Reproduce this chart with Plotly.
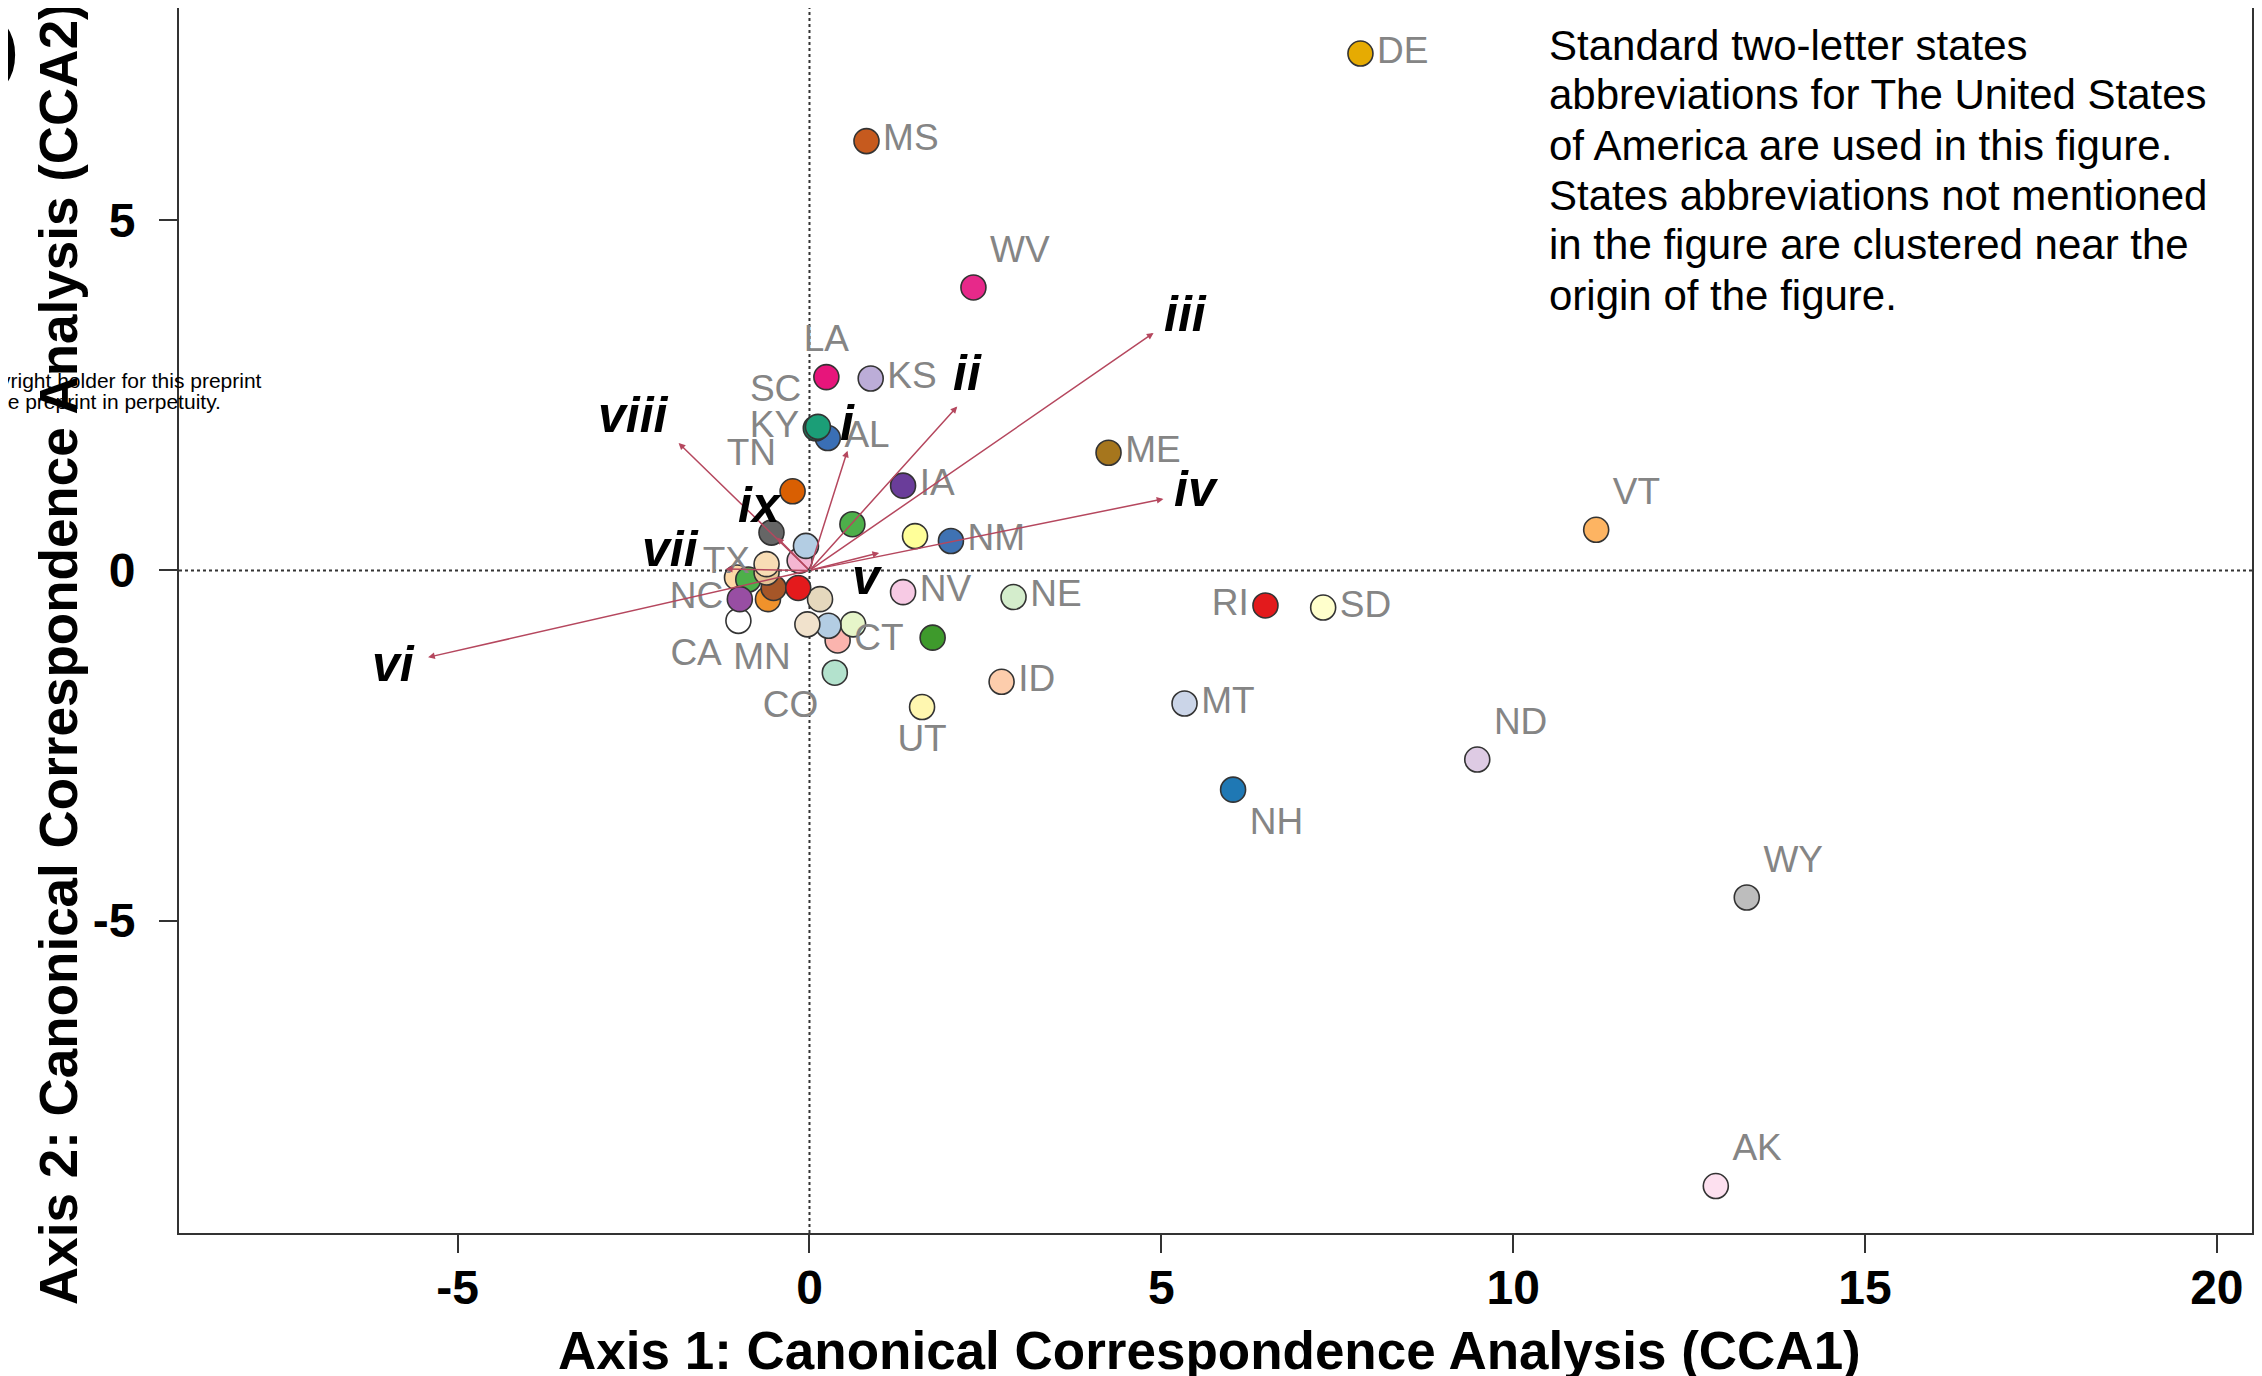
import plotly.graph_objects as go

# --- dane ---
states = [
    "DE", "MS", "WV", "LA", "KS", "AL", "KY", "SC", "ME", "IA", "TN",
    "", "", "NM", "VT", "RI", "SD", "NV", "NE", "", "ID", "UT", "MT",
    "NH", "ND", "WY", "AK", "CO", "CT", "", "", "MN", "", "CA", "",
    "", "", "", "NC", "", "TX", "", "", "", "",
]
cca1 = [
    7.83, 0.81, 2.33, 0.24, 0.87, 0.26, 0.09, 0.12, 4.25, 1.33, -0.24,
    0.61, 1.50, 2.01, 11.18, 6.48, 7.30, 1.33, 2.90, 1.75, 2.73, 1.60, 5.33,
    6.02, 9.49, 13.32, 12.88, 0.36, 0.40, 0.62, 0.27, -0.03, 0.15, -1.01, -1.03,
    -0.87, -0.59, -0.51, -0.99, -0.61, -0.61, -0.16, -0.14, -0.05, -0.54,
]
cca2 = [
    7.38, 6.13, 4.04, 2.76, 2.74, 1.89, 2.03, 2.05, 1.68, 1.21, 1.13,
    0.66, 0.49, 0.42, 0.58, -0.50, -0.53, -0.31, -0.38, -0.96, -1.59, -1.95, -1.90,
    -3.13, -2.70, -4.67, -8.79, -1.46, -1.00, -0.77, -0.79, -0.77, -0.41, -0.72, -0.10,
    -0.13, -0.41, -0.25, -0.41, -0.03, 0.09, -0.25, 0.14, 0.35, 0.54,
]
colors = [
    "#E6AB02", "#C65A1E", "#E7298A", "#E7157B", "#BCADD8", "#3A6FB5", "#1B7A5A",
    "#1B9E77", "#A6761D", "#6A3D9A", "#D95F02", "#4DAF4A", "#FFFF99", "#3F72B3",
    "#FDB462", "#E31A1C", "#FFFFCC", "#F7CAE4", "#D4EDCC", "#3E9A2C", "#FDCDAC",
    "#FFF7B0", "#CBD5E8", "#1F78B4", "#DECBE4", "#BDBDBD", "#FDE0EF", "#B3E2CD",
    "#FBB4AE", "#E6F5C9", "#B3CDE3", "#F1E2CC", "#E5D8BD", "#FFFFFF", "#FED9A6",
    "#4DAF4A", "#F0922B", "#A65628", "#984EA3", "#E5C494", "#F8DDB5", "#E41A1C",
    "#F4B6D2", "#B3CDE3", "#666666",
]

# zmienne objaśniające (strzałki biplotu)
vec_names = ["i", "ii", "iii", "iv", "v", "vi", "vii", "viii", "ix"]
vec_x = [0.54, 2.10, 4.89, 5.03, 0.99, -5.42, -1.19, -1.86, -0.46]
vec_y = [1.71, 2.34, 3.39, 1.02, 0.25, -1.24, 0.02, 1.82, 0.47]

x_ticks = [-5, 0, 5, 10, 15, 20]
y_ticks = [-5, 0, 5]

note_lines = [
    "Standard two-letter states",
    "abbreviations for The United States",
    "of America are used in this figure.",
    "States abbreviations not mentioned",
    "in the figure are clustered near the",
    "origin of the figure.",
]

# --- styl ---
label_pos = {
    "DE": "middle right", "MS": "middle right", "WV": "top right", "LA": "top center",
    "KS": "middle right", "AL": "middle right", "KY": "middle left", "SC": "top left",
    "ME": "middle right", "IA": "middle right", "TN": "top left", "NM": "middle right",
    "VT": "top right", "RI": "middle left", "SD": "middle right", "NV": "middle right",
    "NE": "middle right", "ID": "middle right", "UT": "bottom center", "MT": "middle right",
    "NH": "bottom right", "ND": "top right", "WY": "top right", "AK": "top right",
    "CO": "bottom left", "CT": "middle right", "MN": "bottom left", "CA": "bottom left",
    "NC": "middle left", "TX": "middle left",
}
# przesunięcia etykiet strzałek w px (dx, dy)
vec_shift = {
    "i": (0, 28), "ii": (10, 34), "iii": (32, 19), "iv": (33, 10), "v": (-12, -24),
    "vi": (-35, -7), "vii": (-55, 20), "viii": (-45, 28), "ix": (-17, 33),
}
ARROW = "#B5475E"
FONT = "Liberation Sans, Arial, sans-serif"

# geometria (px); strona HTML ma 8 px marginesu body
OFF = 8
W, H = 2262 - OFF, 1376 - OFF
L, R, T, B = 171, 10, 0, 143
PW, PH = W - L - R, H - T - B


def px_x(p):
    # p: położenie na zrzucie ekranu
    return (p - OFF - L) / PW


def px_y(p):
    return 1 - (p - OFF - T) / PH


fig = go.Figure()

fig.add_trace(go.Scatter(
    x=cca1, y=cca2,
    mode="markers+text",
    text=states,
    textposition=[label_pos.get(s, "middle right") for s in states],
    textfont=dict(family=FONT, size=37, color="#858585"),
    marker=dict(size=25, color=colors, line=dict(color="#333333", width=1.6)),
    hovertext=states,
    showlegend=False,
    cliponaxis=False,
))

annotations = []
for name, vx, vy in zip(vec_names, vec_x, vec_y):
    annotations.append(dict(
        x=vx, y=vy, ax=0, ay=0, xref="x", yref="y", axref="x", ayref="y",
        text="", showarrow=True, arrowhead=2, arrowsize=0.9, arrowwidth=1.5,
        arrowcolor=ARROW,
    ))
    dx, dy = vec_shift[name]
    annotations.append(dict(
        x=vx, y=vy, xref="x", yref="y", text=f"<b><i>{name}</i></b>",
        showarrow=False, xshift=dx, yshift=dy,
        font=dict(family=FONT, size=50, color="black"),
    ))

for i, line in enumerate(note_lines):
    annotations.append(dict(
        x=px_x(1547), y=px_y(45 + i * 50), xref="paper", yref="paper",
        xanchor="left", yanchor="middle", text=line, showarrow=False,
        font=dict(family=FONT, size=42, color="black"),
    ))

annotations += [
    dict(x=px_x(1209), y=px_y(1350), xref="paper", yref="paper",
         xanchor="center", yanchor="middle",
         text="<b>Axis 1: Canonical Correspondence Analysis (CCA1)</b>", showarrow=False,
         font=dict(family=FONT, size=53, color="black")),
    dict(x=px_x(58), y=px_y(654), xref="paper", yref="paper", textangle=-90,
         xanchor="center", yanchor="middle",
         text="<b>Axis 2: Canonical Correspondence Analysis (CCA2)</b>", showarrow=False,
         font=dict(family=FONT, size=53, color="black")),
    dict(x=px_x(20), y=px_y(50), xref="paper", yref="paper", xanchor="right",
         yanchor="middle", text="<b>)</b>", showarrow=False,
         font=dict(family=FONT, size=64, color="black")),
    dict(x=px_x(264), y=px_y(380), xref="paper", yref="paper", xanchor="right",
         yanchor="middle", text="yright holder for this preprint", showarrow=False,
         font=dict(family=FONT, size=21, color="black")),
    dict(x=px_x(223), y=px_y(401), xref="paper", yref="paper", xanchor="right",
         yanchor="middle", text="he preprint in perpetuity.", showarrow=False,
         font=dict(family=FONT, size=21, color="black")),
]

fig.update_layout(
    width=W, height=H,
    margin=dict(l=L, r=R, t=T, b=B),
    plot_bgcolor="white", paper_bgcolor="white",
    annotations=annotations,
    shapes=[
        dict(type="line", x0=0, x1=0, y0=0, y1=1, xref="x", yref="paper",
             line=dict(color="#333333", width=2, dash="dot"), layer="below"),
        dict(type="line", x0=0, x1=1, y0=0, y1=0, xref="paper", yref="y",
             line=dict(color="#333333", width=2, dash="dot"), layer="below"),
    ],
)
fig.update_xaxes(
    range=[-8.96, 20.50], tickvals=x_ticks, ticktext=[str(v) for v in x_ticks],
    showgrid=False, zeroline=False, showline=True, mirror=True, automargin=False,
    linecolor="#333333", linewidth=2, ticks="outside", ticklen=18, tickwidth=1.5,
    tickcolor="#333333", ticklabelstandoff=-7,
    tickfont=dict(family=FONT, size=48, color="black", weight="bold"),
)
fig.update_yaxes(
    range=[-9.46, 8.03], tickvals=y_ticks, ticktext=[str(v) for v in y_ticks],
    showgrid=False, zeroline=False, showline=True, mirror=True, automargin=False,
    linecolor="#333333", linewidth=2, ticks="outside", ticklen=18, tickwidth=1.5,
    tickcolor="#333333", ticklabelstandoff=14,
    tickfont=dict(family=FONT, size=48, color="black", weight="bold"),
)

fig.write_html("out.html")
